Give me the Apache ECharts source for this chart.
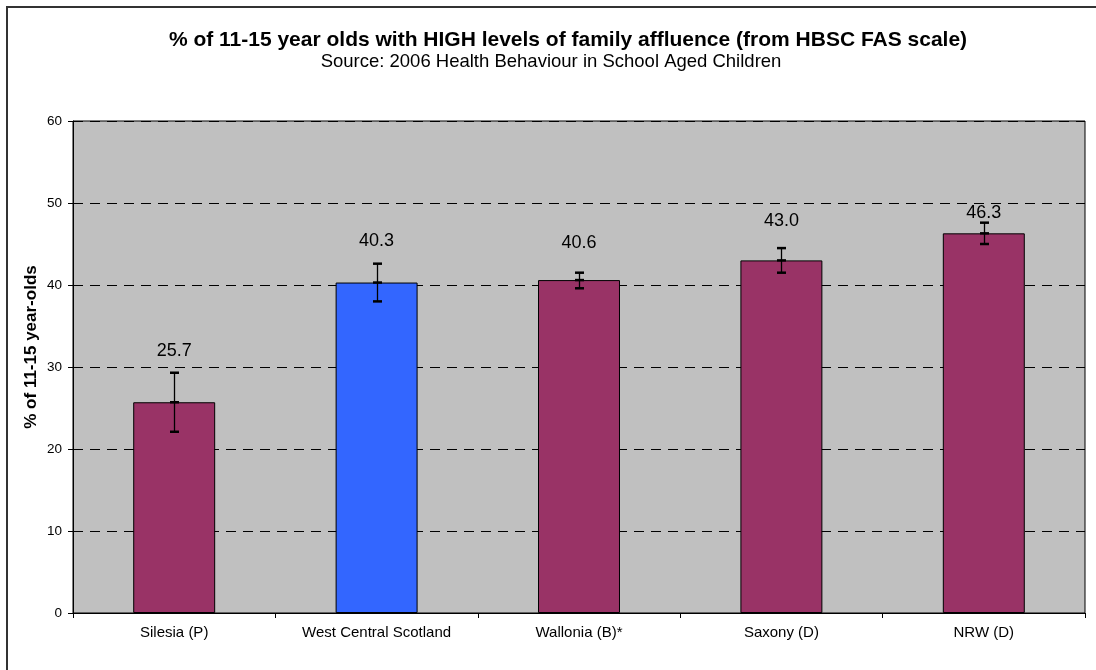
<!DOCTYPE html>
<html>
<head>
<meta charset="utf-8">
<script src="https://cdn.jsdelivr.net/npm/echarts@6/dist/echarts.min.js"></script>
<style>html,body{margin:0;padding:0;background:#fff}#c{width:1096px;height:670px}</style>
</head>
<body>
<div id="c"></div>
<script>
var categories = ['Silesia (P)', 'West Central Scotland', 'Wallonia (B)*', 'Saxony (D)', 'NRW (D)'];
var values = [25.7, 40.3, 40.6, 43.0, 46.3];
var errLow = [22.1, 38.0, 39.6, 41.5, 45.0];
var errHigh = [29.3, 42.6, 41.5, 44.5, 47.6];
var highlight = [false, true, false, false, false];
var yTicks = [0, 10, 20, 30, 40, 50, 60];
var titleText = '% of 11-15 year olds with HIGH levels of family affluence (from HBSC FAS scale)';
var subtitleText = 'Source: 2006 Health Behaviour in School Aged Children';
var yAxisTitle = '% of 11-15 year-olds';

var labelOffsets = [-22, -23, -30, -27, -10];
var FONT = 'Liberation Sans, Arial, sans-serif';

var chart = echarts.init(document.getElementById('c'), null, {renderer: 'canvas'});
chart.setOption({
  animation: false,
  backgroundColor: '#ffffff',
  graphic: [{
    type: 'rect', shape: {x: 7, y: 7, width: 1200, height: 800},
    style: {fill: 'none', stroke: '#333', lineWidth: 2}, silent: true, z: 100
  }, {
    type: 'text', x: 568, y: 40,
    style: {text: titleText, font: 'bold 21px ' + FONT, fill: '#000', align: 'center', verticalAlign: 'middle'}
  }, {
    type: 'text', x: 551, y: 62,
    style: {text: subtitleText, font: '18.5px ' + FONT, fill: '#000', align: 'center', verticalAlign: 'middle'}
  }, {
    type: 'text', x: 31, y: 347, rotation: Math.PI / 2,
    style: {text: yAxisTitle, font: 'bold 17px ' + FONT, fill: '#000', align: 'center', verticalAlign: 'middle'}
  }],
  grid: {left: 73, right: 11, top: 121, bottom: 57, show: true,
    backgroundColor: '#c0c0c0', borderColor: '#000', borderWidth: 1},
  xAxis: {
    type: 'category', data: categories,
    axisLine: {lineStyle: {color: '#000', width: 1}},
    axisTick: {show: true, inside: false, length: 5, lineStyle: {color: '#000'}},
    axisLabel: {fontFamily: FONT, fontSize: 15, color: '#000', margin: 12}
  },
  yAxis: {
    type: 'value', min: yTicks[0], max: yTicks[yTicks.length - 1], interval: 10,
    axisLine: {show: true, lineStyle: {color: '#000'}},
    axisTick: {show: true, length: 5, lineStyle: {color: '#000'}},
    axisLabel: {fontFamily: FONT, fontSize: 13.5, color: '#000', margin: 11},
    splitLine: {show: true, lineStyle: {color: '#000', type: [10, 7], width: 1}}
  },
  series: [{
    type: 'bar', barWidth: '40.5%',
    data: values.map(function (v, i) {
      return {value: v, itemStyle: {color: highlight[i] ? '#3366ff' : '#993366', borderColor: '#000', borderWidth: 1}};
    }),
    z: 2
  }, {
    type: 'custom',
    data: values.map(function (v, i) { return [i, errLow[i], errHigh[i], v]; }),
    renderItem: function (params, api) {
      var i = api.value(0);
      var lo = api.coord([i, api.value(1)]);
      var hi = api.coord([i, api.value(2)]);
      var mid = api.coord([i, api.value(3)]);
      var x = Math.round(lo[0]) + 0.5;
      var cap = 4.5;
      var ls = {stroke: '#000', lineWidth: 1.3};
      var cs = {stroke: '#000', lineWidth: 2.5};
      return {type: 'group', children: [
        {type: 'line', shape: {x1: x, y1: hi[1], x2: x, y2: lo[1]}, style: ls},
        {type: 'line', shape: {x1: x - cap, y1: hi[1], x2: x + cap, y2: hi[1]}, style: cs},
        {type: 'line', shape: {x1: x - cap, y1: lo[1], x2: x + cap, y2: lo[1]}, style: cs},
        {type: 'line', shape: {x1: x - cap, y1: mid[1], x2: x + cap, y2: mid[1]}, style: cs},
        {type: 'text', x: lo[0], y: hi[1] + labelOffsets[params.dataIndex],
          style: {text: api.value(3).toFixed(1), fontFamily: FONT, fontSize: 18, fill: '#000',
            align: 'center', verticalAlign: 'middle'}}
      ]};
    },
    z: 3
  }]
});
</script>
</body>
</html>
